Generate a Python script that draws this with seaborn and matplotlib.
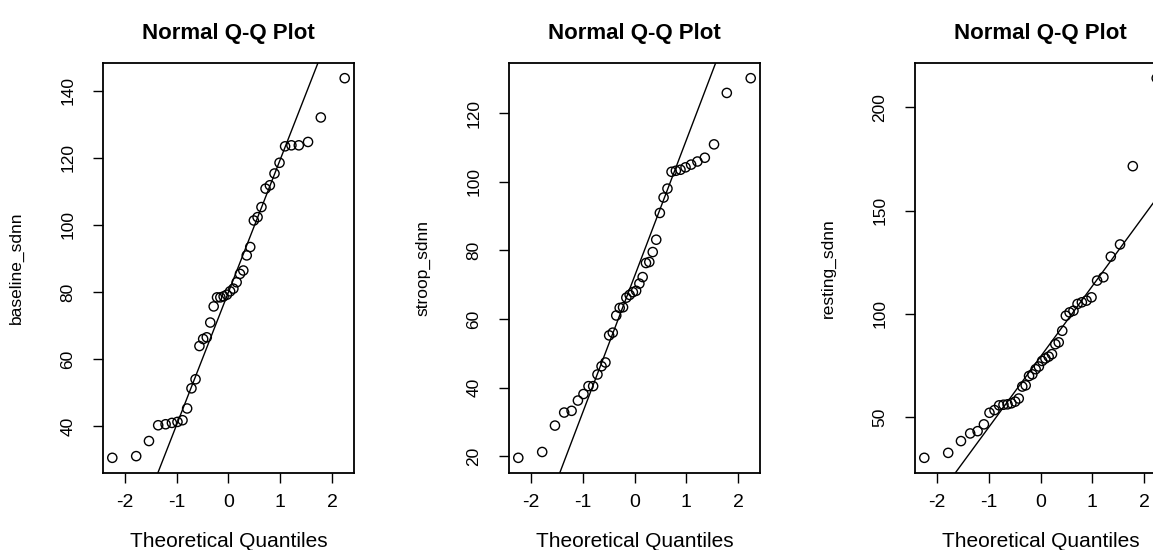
"""Three normal Q-Q plots (R qqnorm/qqline style) of SDNN measures."""

from statistics import NormalDist

import matplotlib

matplotlib.use("Agg")
import matplotlib.pyplot as plt
import numpy as np
import seaborn as sns

# sorted sample values (n = 40 per variable)
baseline_sdnn = [
    30.6, 31.1, 35.6, 40.3, 40.6, 41.0, 41.3, 41.8, 45.3, 51.3,
    54.0, 63.9, 66.0, 66.5, 70.9, 75.7, 78.4, 78.4, 78.7, 79.2,
    80.2, 81.0, 82.9, 85.4, 86.4, 90.9, 93.4, 101.3, 102.3, 105.3,
    110.8, 111.8, 115.3, 118.5, 123.4, 123.7, 123.7, 124.7, 132.0, 143.7,
]
stroop_sdnn = [
    19.5, 21.2, 28.9, 32.7, 33.2, 36.2, 38.1, 40.4, 40.4, 43.8,
    46.2, 47.3, 55.2, 56.0, 61.0, 63.2, 63.4, 66.2, 67.0, 67.8,
    68.2, 70.3, 72.2, 76.3, 76.6, 79.5, 83.1, 90.9, 95.4, 98.0,
    102.9, 103.2, 103.5, 104.2, 105.0, 105.9, 107.0, 110.9, 125.9, 130.2,
]
resting_sdnn = [
    30.3, 32.7, 38.4, 42.1, 43.2, 46.5, 52.1, 53.4, 55.7, 56.0,
    56.2, 56.7, 57.5, 59.0, 64.8, 65.4, 69.9, 70.7, 73.2, 74.5,
    77.2, 78.4, 79.3, 80.5, 85.3, 86.2, 91.8, 99.1, 100.7, 101.5,
    104.8, 105.6, 106.4, 108.0, 116.1, 117.7, 127.7, 133.6, 171.5, 214.1,
]

variable_names = ["baseline_sdnn", "stroop_sdnn", "resting_sdnn"]
y_ticks = [
    [40, 60, 80, 100, 120, 140],
    [20, 40, 60, 80, 100, 120],
    [50, 100, 150, 200],
]
x_ticks = [-2, -1, 0, 1, 2]


def theoretical_quantiles(n):
    """Same plotting positions as R's ppoints()."""
    a = 3 / 8 if n <= 10 else 0.5
    probs = [(i - a) / (n + 1 - 2 * a) for i in range(1, n + 1)]
    return np.array([NormalDist().inv_cdf(p) for p in probs])


def qq_line(values):
    """Line through the first and third quartiles, like R's qqline()."""
    q1, q3 = np.quantile(values, [0.25, 0.75])
    z1, z3 = NormalDist().inv_cdf(0.25), NormalDist().inv_cdf(0.75)
    slope = (q3 - q1) / (z3 - z1)
    return q1 - slope * z1, slope


sns.set_style("white")
plt.rcParams["font.family"] = ["Liberation Sans", "DejaVu Sans"]
plt.rcParams["axes.unicode_minus"] = False
plt.rcParams["text.color"] = "black"
plt.rcParams["axes.labelcolor"] = "black"
plt.rcParams["xtick.color"] = "black"
plt.rcParams["ytick.color"] = "black"

fig = plt.figure(figsize=(11.53, 5.5), dpi=100)
left_px = [103, 509, 915]

for left, name, values, yt in zip(
    left_px, variable_names, [baseline_sdnn, stroop_sdnn, resting_sdnn], y_ticks
):
    ax = fig.add_axes([left / 1153, 77 / 550, 251 / 1153, 410 / 550])
    vals = np.sort(np.array(values))
    theo = theoretical_quantiles(len(vals))

    sns.scatterplot(
        x=theo,
        y=vals,
        ax=ax,
        marker="o",
        s=44,
        facecolor="none",
        edgecolor="black",
        linewidth=1.0,
    )
    intercept, slope = qq_line(vals)
    ax.axline((0, intercept), slope=slope, color="black", linewidth=1.0)

    # R pads the data range by 4% on each side
    ax.margins(x=0.04, y=0.04)

    ax.set_xticks(x_ticks)
    ax.set_yticks(yt)
    ax.set_yticklabels([str(v) for v in yt], rotation=90, va="center")
    ax.tick_params(axis="x", length=7, width=1, labelsize=14, pad=8,
                   bottom=True, direction="out")
    ax.tick_params(axis="y", length=7, width=1, labelsize=12.5, pad=13,
                   left=True, direction="out")
    for spine in ax.spines.values():
        spine.set_color("black")
        spine.set_linewidth(1.3)

    ax.set_title("Normal Q-Q Plot", fontsize=16, fontweight="bold", pad=17)
    ax.set_xlabel("Theoretical Quantiles", fontsize=15, labelpad=15)
    ax.set_ylabel(name, fontsize=12.5, labelpad=26)

fig.savefig("out.png", dpi=100)
